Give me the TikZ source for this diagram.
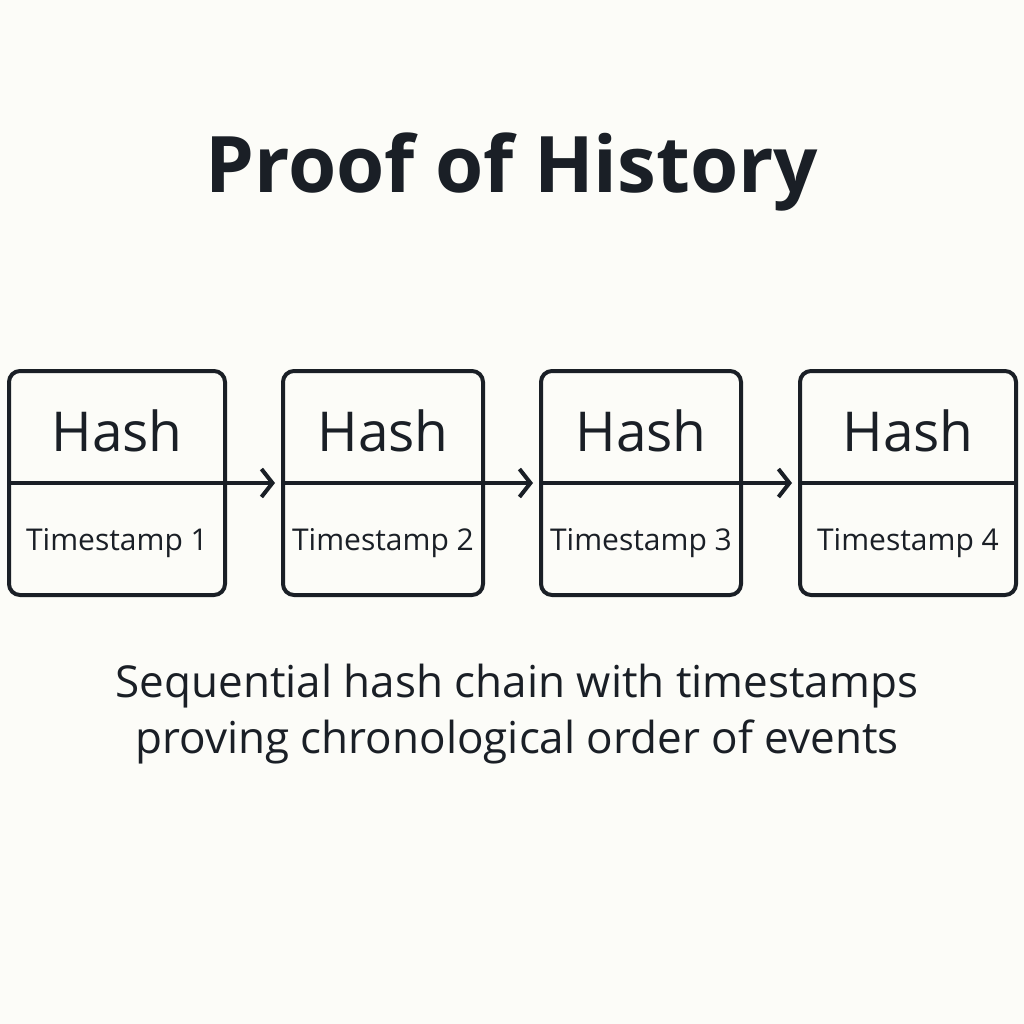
\documentclass[tikz,border=0pt]{standalone}
\usepackage{fontspec}
\setmainfont{Open Sans}
\usetikzlibrary{arrows.meta,positioning}
\definecolor{ink}{HTML}{1A1F26}
\definecolor{paper}{HTML}{FCFCF8}
\tikzset{
  block/.style={draw=ink,line width=4pt,rounded corners=11pt,minimum width=#1,minimum height=224pt},
  block/.default=216pt,
  hashtxt/.style={font=\fontsize{55}{60}\selectfont,text=ink},
  stamptxt/.style={font=\fontsize{30}{34}\selectfont,text=ink},
  link/.style={draw=ink,line width=4pt,-{Straight Barb[length=11pt,width=28pt,line width=4pt]},shorten >=6pt}
}
\begin{document}
\begin{tikzpicture}[x=1pt,y=-1pt]
  \fill[paper] (0,0) rectangle (1024,1024);
  \useasboundingbox (0,0) rectangle (1024,1024);
  % title
  \node (title) at (512,172) {\fontsize{78}{84}\selectfont\bfseries\color{ink}Proof of History};
  % blocks
  \node (b1) [block] at (117,483) {};
  \node (b2) [block=200pt] at (383,483) {};
  \node (b3) [block=200pt] at (641,483) {};
  \node (b4) [block] at (908,483) {};
  \foreach \b/\n in {b1/1,b2/2,b3/3,b4/4}{
    \draw[ink,line width=4pt] (\b.west) -- (\b.east);
    \node (h\n) [hashtxt] at ([yshift=52pt]\b.center) {Hash};
    \node (t\n) [stamptxt] at ([yshift=-60pt]\b.center) {Timestamp \n};
  }
  \path (b1.east) edge[link] (b2.west)
        (b2.east) edge[link] (b3.west)
        (b3.east) edge[link] (b4.west);
  % caption
  \node (cap) [font=\fontsize{44}{56}\selectfont,text=ink,align=center] at (517,714)
    {Sequential hash chain with timestamps\\proving chronological order of events};
\end{tikzpicture}
\end{document}
